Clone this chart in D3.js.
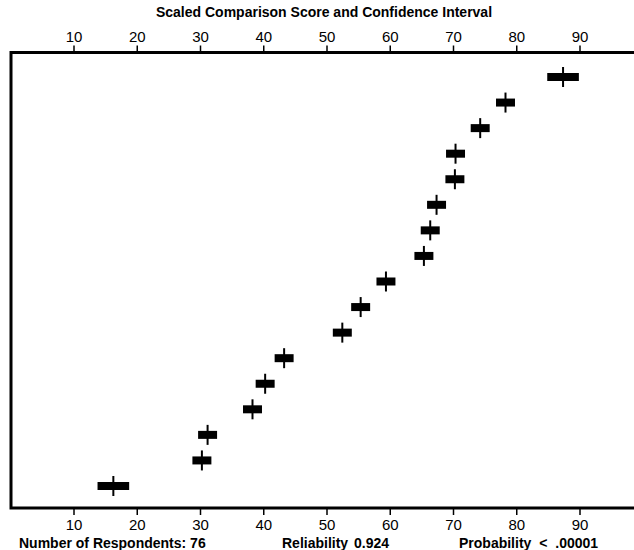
<!DOCTYPE html>
<html>
<head>
<meta charset="utf-8">
<script src="https://cdn.jsdelivr.net/npm/d3@7"></script>
<style>
  body { margin: 0; background: #fff; }
  svg { display: block; font-family: "Liberation Sans", Arial, sans-serif; }
</style>
</head>
<body>
<div id="chart"></div>
<script>
// items listed bottom to top
var items = ['1','2','3','4','5','6','7','8','9','10','11','12','13','14','15','16','17'];
var scores = [16.3, 30.3, 31.2, 38.3, 40.3, 43.3, 52.5, 55.4, 59.4, 65.4, 66.4, 67.4, 70.3, 70.4, 74.3, 78.3, 87.4];
var ciHalf = [2.5, 1.5, 1.5, 1.5, 1.5, 1.5, 1.5, 1.5, 1.5, 1.5, 1.5, 1.5, 1.5, 1.5, 1.5, 1.5, 2.5];
var tickValues = [10, 20, 30, 40, 50, 60, 70, 80, 90];

var data = items.map(function(d, i) {
  return {id: d, score: scores[i], ci: ciHalf[i]};
});

var fullWidth = 634, fullHeight = 550;
var frame = {left: 11, top: 52.5, bottom: 508};

var svg = d3.select('#chart').append('svg')
  .attr('width', fullWidth)
  .attr('height', fullHeight);

var x = d3.scaleLinear()
  .domain([0, 100])
  .range([10.25, 642.75]);

var y = d3.scalePoint()
  .domain(items)
  .range([486, 77]);

// title
svg.append('text')
  .attr('x', 324)
  .attr('y', 17)
  .attr('text-anchor', 'middle')
  .style('font-size', '14px')
  .style('font-weight', 'bold')
  .text('Scaled Comparison Score and Confidence Interval');

// axes
var topAxis = d3.axisTop(x).tickValues(tickValues).tickSize(7).tickPadding(4);
var bottomAxis = d3.axisBottom(x).tickValues(tickValues).tickSize(7).tickPadding(4);

var gTop = svg.append('g')
  .attr('transform', 'translate(0,' + frame.top + ')')
  .call(topAxis);
var gBottom = svg.append('g')
  .attr('transform', 'translate(0,' + frame.bottom + ')')
  .call(bottomAxis);

[gTop, gBottom].forEach(function(g) {
  g.select('.domain').remove();
  g.selectAll('.tick line').attr('stroke', '#000').attr('stroke-width', 1.5);
  g.selectAll('.tick text')
    .attr('fill', '#000')
    .style('font-family', '"Liberation Sans", Arial, sans-serif')
    .style('font-size', '15px');
});

// open frame (left, top, bottom)
svg.append('path')
  .attr('d', 'M650,' + frame.top + 'H' + frame.left + 'V' + frame.bottom + 'H650')
  .attr('fill', 'none')
  .attr('stroke', '#000')
  .attr('stroke-width', 3);

// markers
var marks = svg.append('g').classed('marks', true);

marks.selectAll('rect.ci')
    .data(data)
  .enter().append('rect')
    .classed('ci', true)
    .attr('x', function(d) { return x(d.score - d.ci); })
    .attr('width', function(d) { return x(d.score + d.ci) - x(d.score - d.ci); })
    .attr('y', function(d) { return y(d.id) - 4; })
    .attr('height', 8)
    .attr('fill', '#000');

marks.selectAll('line.score')
    .data(data)
  .enter().append('line')
    .classed('score', true)
    .attr('x1', function(d) { return x(d.score); })
    .attr('x2', function(d) { return x(d.score); })
    .attr('y1', function(d) { return y(d.id) - 10; })
    .attr('y2', function(d) { return y(d.id) + 10; })
    .attr('stroke', '#000')
    .attr('stroke-width', 2);

// footer
var footer = [
  {x: 19, text: 'Number of Respondents: 76', ws: 0},
  {x: 282, text: 'Reliability 0.924', ws: 2},
  {x: 459, text: 'Probability < .00001', ws: 4}
];
svg.selectAll('text.footer')
    .data(footer)
  .enter().append('text')
    .classed('footer', true)
    .attr('x', function(d) { return d.x; })
    .attr('y', 548)
    .style('font-size', '14px')
    .style('font-weight', 'bold')
    .style('word-spacing', function(d) { return d.ws + 'px'; })
    .text(function(d) { return d.text; });
</script>
</body>
</html>
